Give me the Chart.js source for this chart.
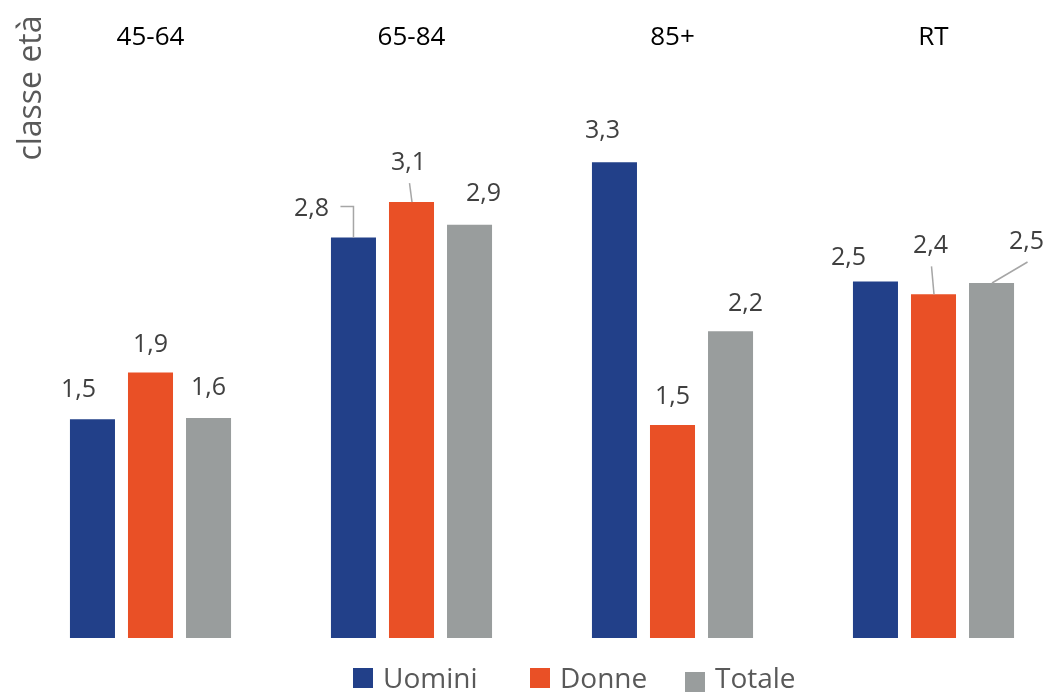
<!DOCTYPE html>
<html>
<head>
<meta charset="utf-8">
<script src="https://cdn.jsdelivr.net/npm/chart.js@4.4.1/dist/chart.umd.min.js"></script>
<style>
  html, body { margin: 0; padding: 0; background: #fff; overflow: hidden; }
  #wrap { width: 1064px; height: 692px; position: relative; }
</style>
</head>
<body>
<div id="wrap"><canvas id="chart"></canvas></div>
<script>
"use strict";

// dati
const categories = ['45-64', '65-84', '85+', 'RT'];
const uomini = [1.54, 2.82, 3.35, 2.51];
const donne = [1.87, 3.07, 1.50, 2.42];
const totale = [1.55, 2.91, 2.16, 2.50];
const uominiLabels = ['1,5', '2,8', '3,3', '2,5'];
const donneLabels = ['1,9', '3,1', '1,5', '2,4'];
const totaleLabels = ['1,6', '2,9', '2,2', '2,5'];
const yTitle = 'classe età';

const FONT = '"Open Sans", "Noto Sans", sans-serif';
const COLORS = ['rgb(34, 64, 137)', 'rgb(233, 80, 38)', 'rgb(153, 157, 157)'];

// posizione etichette rispetto al centro/cima della barra [dx, dy]
const labelOffsets = [
    [[-14, -29], [-42, -29], [-12, -31], [-27, -24]],
    [[0, -28], [-3, -39], [0, -28], [-3, -48]],
    [[0, -30], [14, -31], [15, -27], [35, -41]]
];
// linee guida: [dataset, indice, tipo]
const leaders = [
    [0, 1, 'elbow'],
    [1, 1, 'line'],
    [1, 3, 'line'],
    [2, 3, 'line']
];
const legendX = [353, 530, 685];
const legendBoxY = [668, 668, 672];

const labelsPlugin = {
    id: 'customText',
    afterDatasetsDraw(chart) {
        const c = chart.ctx;
        const xs = chart.scales.x;
        const allLabels = [uominiLabels, donneLabels, totaleLabels];

        c.save();
        // titolo asse y
        c.fillStyle = '#595959';
        c.font = '32px ' + FONT;
        c.translate(41, 88);
        c.rotate(-Math.PI / 2);
        c.textAlign = 'center';
        c.textBaseline = 'alphabetic';
        c.fillText(yTitle, 0, 0);
        c.restore();

        // categorie in alto
        c.save();
        c.fillStyle = '#000';
        c.font = '26px ' + FONT;
        c.textAlign = 'center';
        c.textBaseline = 'middle';
        categories.forEach((cat, i) => {
            c.fillText(cat, xs.getPixelForValue(i), 38);
        });
        c.restore();

        // linee guida
        c.save();
        c.strokeStyle = '#a6a6a6';
        c.lineWidth = 1.5;
        leaders.forEach(([d, i, type]) => {
            const bar = chart.getDatasetMeta(d).data[i];
            const off = labelOffsets[d][i];
            const lx = bar.x + off[0];
            const ly = bar.y + off[1];
            c.beginPath();
            if (type === 'elbow') {
                c.moveTo(lx + 29, ly - 2);
                c.lineTo(bar.x, ly - 2);
                c.lineTo(bar.x, bar.y);
            } else {
                c.moveTo(lx + 1, ly + 20);
                c.lineTo(bar.x + 0.5, bar.y);
            }
            c.stroke();
        });
        c.restore();

        // etichette dei valori
        c.save();
        c.fillStyle = '#404040';
        c.font = '25px ' + FONT;
        c.textAlign = 'center';
        c.textBaseline = 'middle';
        chart.data.datasets.forEach((ds, d) => {
            chart.getDatasetMeta(d).data.forEach((bar, i) => {
                const off = labelOffsets[d][i];
                c.fillText(allLabels[d][i], bar.x + off[0], bar.y + off[1]);
            });
        });
        c.restore();

        // legenda
        c.save();
        c.font = '28px ' + FONT;
        c.textAlign = 'left';
        c.textBaseline = 'alphabetic';
        chart.data.datasets.forEach((ds, d) => {
            c.fillStyle = ds.backgroundColor;
            c.fillRect(legendX[d], legendBoxY[d], 20, 20);
            c.fillStyle = '#595959';
            c.fillText(ds.label, legendX[d] + 30, 688);
        });
        c.restore();
    }
};

const ctx = document.getElementById('chart').getContext('2d');
const chart = new Chart(ctx, {
    type: 'bar',
    data: {
        labels: categories,
        datasets: [
            { label: 'Uomini', data: uomini, backgroundColor: COLORS[0] },
            { label: 'Donne', data: donne, backgroundColor: COLORS[1] },
            { label: 'Totale', data: totale, backgroundColor: COLORS[2] }
        ]
    },
    options: {
        responsive: true,
        maintainAspectRatio: false,
        animation: false,
        datasets: {
            bar: {
                categoryPercentage: 0.667,
                barPercentage: 0.776
            }
        },
        layout: {
            padding: { left: 20, right: 0, top: 70, bottom: 54 }
        },
        scales: {
            x: { display: false },
            y: { display: false, min: 0, max: 4 }
        },
        plugins: {
            legend: { display: false },
            tooltip: { enabled: false }
        }
    },
    plugins: [labelsPlugin]
});
</script>
</body>
</html>
